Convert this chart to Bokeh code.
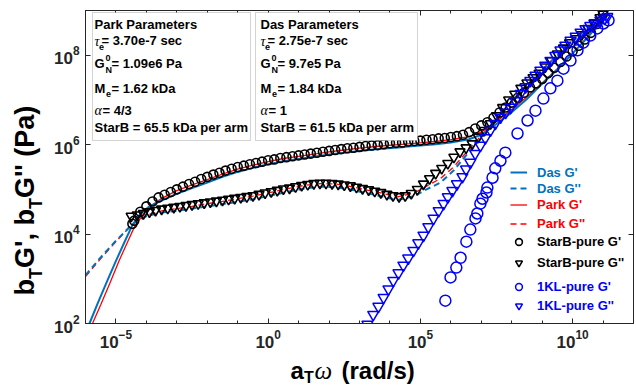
import numpy as np
from math import pi
from bokeh.plotting import figure
from bokeh.layouts import row, column
from bokeh.models import (Range1d, FixedTicker, LogAxis, Legend, LegendItem,
                          Label, BoxAnnotation, CustomJSTickFormatter)
from bokeh.embed import file_html
from bokeh.resources import INLINE

# ---------------- data (log10 of a_T*omega and of b_T*G) ----
das_gp_lw = [-5.87, -5.6, -5.3, -5.0, -4.7, -4.46, -4.2, -3.9, -3.54, -3.0, -2.5, -2.0, -1.5, -1.0,
             -0.5, 0.0, 0.5, 1.0, 1.5, 2.0, 2.5, 3.0, 3.7, 4.5, 5.0, 5.5, 6.0, 6.6, 7.0, 7.3, 7.96,
             8.5, 8.94, 9.5, 9.93, 10.5, 11.08]
das_gp_lg = [2.00, 2.45, 2.93, 3.40, 3.85, 4.20, 4.45, 4.62, 4.74, 4.90, 5.03, 5.15, 5.28, 5.39,
             5.48, 5.56, 5.63, 5.68, 5.73, 5.78, 5.82, 5.86, 5.91, 5.95, 5.98, 6.01, 6.05, 6.12, 6.22,
             6.36, 6.70, 7.02, 7.32, 7.68, 7.99, 8.40, 8.89]

das_gpp_lw = [-6.0, -5.5, -5.0, -4.46, -4.0, -3.5, -3.0, -2.5, -2.0, -1.5, -1.0, -0.5, 0.0, 0.6, 1.2,
              1.72, 2.2, 2.6, 3.2, 3.69, 4.25, 4.8, 5.2, 5.66, 6.09, 6.55, 7.0, 7.3, 7.8, 8.29, 8.94,
              9.6, 10.3, 11.01]
das_gpp_lg = [3.08, 3.48, 3.85, 4.22, 4.40, 4.48, 4.52, 4.57, 4.62, 4.67, 4.72, 4.78, 4.85, 4.94, 5.02,
              5.06, 5.05, 5.01, 4.92, 4.85, 4.76, 4.85, 5.00, 5.15, 5.42, 5.80, 6.15, 6.38, 6.80, 7.18,
              7.62, 8.06, 8.50, 8.89]

park_gp_lw = [-5.77, -5.5, -5.2, -4.9, -4.6, -4.4, -4.1, -3.8, -3.54, -3.0, -2.5, -2.0, -1.5, -1.0,
              -0.5, 0.0, 0.5, 1.0, 1.5, 2.0, 2.5, 3.0, 3.7, 4.5, 5.0, 5.5, 6.0, 6.6, 7.0, 7.3, 8.0,
              8.5, 9.0, 9.5, 10.0, 10.5, 11.05]
park_gp_lg = [2.00, 2.42, 2.90, 3.40, 3.85, 4.15, 4.45, 4.65, 4.78, 4.97, 5.10, 5.22, 5.34, 5.45,
              5.54, 5.62, 5.69, 5.74, 5.79, 5.84, 5.88, 5.92, 5.97, 6.01, 6.04, 6.07, 6.11, 6.18,
              6.28, 6.42, 6.78, 7.07, 7.38, 7.70, 8.04, 8.42, 8.90]

park_gpp_lw = [-6.0, -5.5, -5.0, -4.46, -4.0, -3.5, -3.0, -2.5, -2.0, -1.5, -1.0, -0.5, 0.0, 0.6, 1.2,
               1.72, 2.2, 2.6, 3.2, 3.69, 4.25, 4.8, 5.2, 5.66, 6.09, 6.55, 7.0, 7.3, 7.8, 8.3, 8.94,
               9.6, 10.3, 11.01]
park_gpp_lg = [3.05, 3.45, 3.83, 4.22, 4.42, 4.52, 4.57, 4.62, 4.68, 4.73, 4.79, 4.85, 4.92, 5.01, 5.09,
               5.13, 5.12, 5.08, 4.99, 4.92, 4.83, 4.92, 5.07, 5.24, 5.50, 5.86, 6.20, 6.42, 6.83, 7.20,
               7.64, 8.08, 8.52, 8.90]

starb_gp_lw = [-4.46, -4.4, -4.2, -4.0, -3.8, -3.6, -3.4, -3.2, -3.0, -2.8, -2.6, -2.4, -2.2, -2.0, -1.8,
               -1.6, -1.4, -1.2, -1.0, -0.8, -0.6, -0.4, -0.2, 0.0, 0.2, 0.4, 0.6, 0.8, 1.0, 1.2,
               1.4, 1.6, 1.8, 2.0, 2.2, 2.4, 2.6, 2.8, 3.0, 3.2, 3.4, 3.6, 3.8, 4.0, 4.2, 4.4, 4.6,
               4.8, 5.0, 5.2, 5.4, 5.6, 5.8, 6.0, 6.2, 6.4, 6.6, 6.8, 7.0, 7.2, 7.4, 7.6, 7.8, 8.0,
               8.2, 8.4, 8.6, 8.8, 9.0, 9.2, 9.4, 9.6, 9.8, 10.0, 10.2, 10.4, 10.6, 10.8, 11.0]
starb_gp_lg = [4.23, 4.30, 4.50, 4.62, 4.73, 4.82, 4.88, 4.94, 5.00, 5.06, 5.12, 5.17, 5.23, 5.28, 5.33,
               5.37, 5.42, 5.46, 5.50, 5.53, 5.56, 5.59, 5.62, 5.65, 5.67, 5.70, 5.72, 5.74, 5.76, 5.78,
               5.80, 5.82, 5.84, 5.86, 5.88, 5.90, 5.92, 5.93, 5.95, 5.97, 5.98, 5.99, 6.01, 6.03, 6.04,
               6.05, 6.07, 6.08, 6.09, 6.11, 6.12, 6.14, 6.15, 6.17, 6.19, 6.22, 6.28, 6.36, 6.43, 6.50,
               6.60, 6.72, 6.83, 6.94, 7.05, 7.16, 7.28, 7.37, 7.47, 7.60, 7.72, 7.85, 7.97, 8.09, 8.21,
               8.35, 8.50, 8.70, 8.92]

starb_gpp_lw = [-4.5, -4.3, -4.1, -3.9, -3.7, -3.5, -3.3, -3.1, -2.9, -2.7, -2.5, -2.3, -2.1, -1.9, -1.7,
                -1.5, -1.3, -1.1, -0.9, -0.7, -0.5, -0.3, -0.1, 0.1, 0.3, 0.5, 0.7, 0.9, 1.1, 1.3,
                1.5, 1.7, 1.9, 2.1, 2.3, 2.5, 2.7, 2.9, 3.1, 3.3, 3.5, 3.7, 3.9, 4.1, 4.3, 4.5, 4.7,
                4.9, 5.1, 5.3, 5.5, 5.7, 5.9, 6.1, 6.3, 6.5, 6.7, 6.9, 7.1, 7.3, 7.5, 7.7, 7.9, 8.1,
                8.3, 8.5, 8.7, 8.9, 9.1, 9.3, 9.5, 9.7, 9.9, 10.1, 10.3, 10.5, 10.7, 10.9, 11.0]
starb_gpp_lg = [4.40, 4.43, 4.46, 4.50, 4.53, 4.56, 4.58, 4.60, 4.62, 4.64, 4.66, 4.68, 4.70, 4.72, 4.74,
                4.76, 4.78, 4.80, 4.82, 4.84, 4.86, 4.89, 4.92, 4.95, 4.98, 5.01, 5.03, 5.06, 5.09, 5.11,
                5.13, 5.14, 5.14, 5.13, 5.12, 5.10, 5.08, 5.05, 5.02, 4.99, 4.96, 4.93, 4.89, 4.86, 4.84,
                4.86, 4.91, 5.00, 5.12, 5.24, 5.36, 5.47, 5.58, 5.72, 5.84, 5.93, 6.02, 6.17, 6.32, 6.47,
                6.65, 6.83, 7.00, 7.13, 7.26, 7.38, 7.50, 7.60, 7.74, 7.88, 8.03, 8.16, 8.28, 8.37, 8.46,
                8.60, 8.72, 8.84, 8.92]

kl_gp_lw = [5.82, 5.99, 6.18, 6.32, 6.51, 6.64, 6.81, 6.87, 6.97, 7.04, 7.17, 7.20, 7.37, 7.46, 7.63,
            7.79, 8.19, 8.52, 8.78, 9.04, 9.27, 9.50, 9.70, 9.93, 10.16, 10.35, 10.58, 10.81, 11.01, 11.18]
kl_gp_lg = [2.51, 3.03, 3.25, 3.47, 3.83, 4.10, 4.35, 4.46, 4.68, 4.79, 4.93, 5.04, 5.26, 5.47, 5.64,
            5.82, 6.25, 6.54, 6.76, 7.03, 7.26, 7.43, 7.70, 7.88, 8.11, 8.28, 8.44, 8.60, 8.71, 8.78]

kl_gpp_lw = [3.26, 3.45, 3.62, 3.79, 3.95, 4.11, 4.28, 4.44, 4.60, 4.77, 4.93, 5.10, 5.26, 5.43, 5.60,
             5.76, 5.90, 6.05, 6.20, 6.38, 6.50, 6.64, 6.80, 6.97, 7.13, 7.30, 7.46, 7.63, 7.80, 7.96,
             8.12, 8.29, 8.45, 8.61, 8.78, 8.94, 9.10, 9.27, 9.43, 9.60, 9.76, 9.93, 10.10, 10.26,
             10.42, 10.58, 10.75, 10.91, 11.05, 11.14]
kl_gpp_lg = [1.98, 2.20, 2.38, 2.58, 2.77, 2.96, 3.13, 3.30, 3.46, 3.63, 3.80, 3.97, 4.16, 4.35, 4.52,
             4.68, 4.83, 4.97, 5.12, 5.28, 5.45, 5.60, 5.80, 5.98, 6.15, 6.32, 6.47, 6.61, 6.72, 6.83,
             6.98, 7.14, 7.29, 7.43, 7.55, 7.66, 7.77, 7.88, 7.99, 8.11, 8.22, 8.33, 8.42, 8.51,
             8.59, 8.66, 8.72, 8.78, 8.82, 8.86]

x_major = [1e-5, 1e0, 1e5, 1e10]
x_minor = [10.0 ** k for k in range(-6, 13)]
y_major = [1e2, 1e4, 1e6, 1e8]

park_params = ["Park Parameters", "= 3.70e-7 sec", "= 1.09e6 Pa", "= 1.62 kDa", "= 4/3",
               "StarB = 65.5 kDa per arm"]
das_params = ["Das Parameters", "= 2.75e-7 sec", "= 9.7e5 Pa", "= 1.84 kDa", "= 1",
              "StarB = 61.5 kDa per arm"]

# ---------------- style ----------------
DAS = "#0072BD"
RED = "#FF0000"
BLUE = "#0000FF"
AX = "#262626"
FONT = "Liberation Sans"
GREEK = "Liberation Serif"

# page layout: [ylabel strip 45px] [ main figure 591 x 355 over xlabel strip 591 x 32 ]
# frame of the main plot: page x 85..633, y 10..323
p = figure(width=591, height=355, x_axis_type="log", y_axis_type="log",
           x_range=Range1d(1e-6, 1e12), y_range=Range1d(1e2, 1e9),
           output_backend="svg", toolbar_location=None,
           min_border_left=40, min_border_right=3, min_border_top=10, min_border_bottom=32)
p.grid.visible = False
p.outline_line_color = AX
p.outline_line_width = 1
p.background_fill_color = "white"
p.border_fill_color = "white"


def strip(w, h, l, r, t, b):
    f = figure(width=w, height=h, output_backend="svg", toolbar_location=None,
               x_axis_location=None, y_axis_location=None,
               min_border_left=l, min_border_right=r, min_border_top=t, min_border_bottom=b)
    f.grid.visible = False
    f.outline_line_color = None
    f.background_fill_color = "white"
    f.border_fill_color = "white"
    return f


# borders chosen so that the strip frames line up with the main frame
fy_lab = strip(45, 387, 0, 0, 10, 64)     # frame: page x 0..45, y 10..323
fx_lab = strip(591, 32, 40, 3, 0, 0)      # frame: page x 85..633, y 355..387


def L(a):
    return [10.0 ** v for v in a]


r_pgp = p.line(L(park_gp_lw), L(park_gp_lg), line_color=RED, line_width=1.3)
r_pgpp = p.line(L(park_gpp_lw), L(park_gpp_lg), line_color=RED, line_width=1.3, line_dash="6 4")
r_dgp = p.line(L(das_gp_lw), L(das_gp_lg), line_color=DAS, line_width=2)
r_dgpp = p.line(L(das_gpp_lw), L(das_gpp_lg), line_color=DAS, line_width=2, line_dash="6 4")
r_sgp = p.scatter(L(starb_gp_lw), L(starb_gp_lg), marker="circle", size=9, fill_color=None,
                  line_color="black", line_width=1.6)
r_sgpp = p.scatter(L(starb_gpp_lw), L(starb_gpp_lg), marker="inverted_triangle", size=10,
                   fill_color=None, line_color="black", line_width=1.6)
r_kgp = p.scatter(L(kl_gp_lw), L(kl_gp_lg), marker="circle", size=11, fill_color=None,
                  line_color=BLUE, line_width=1.5)
r_kgpp = p.scatter(L(kl_gpp_lw), L(kl_gpp_lg), marker="inverted_triangle", size=11,
                   fill_color=None, line_color=BLUE, line_width=1.5)

# ---------------- axes ----------------
def style_axis(ax, labels=True):
    ax.axis_line_color = AX
    ax.major_tick_line_color = AX
    ax.minor_tick_line_color = AX
    ax.major_tick_in = 5
    ax.major_tick_out = 0
    ax.minor_tick_in = 3
    ax.minor_tick_out = 0
    if labels:
        ax.major_label_text_font = FONT
        ax.major_label_text_font_style = "bold"
        ax.major_label_text_font_size = "17px"
        ax.major_label_text_color = AX
        ax.major_label_standoff = 6
    else:
        ax.formatter = CustomJSTickFormatter(code="return ''")
        ax.major_label_text_font_size = "1px"
        ax.major_label_standoff = 0


p.xaxis.ticker = FixedTicker(ticks=x_major, minor_ticks=x_minor)
p.yaxis.ticker = FixedTicker(ticks=y_major, minor_ticks=[])
style_axis(p.xaxis[0])
style_axis(p.yaxis[0])

top = LogAxis(ticker=FixedTicker(ticks=x_major, minor_ticks=x_minor))
style_axis(top, labels=False)
p.add_layout(top, "above")
right = LogAxis(ticker=FixedTicker(ticks=y_major, minor_ticks=[]))
style_axis(right, labels=False)
p.add_layout(right, "right")


# ---------------- text helper (page px -> frame px of a given figure) ----------------
def txt(fig, ox, oy, px, py, text, size=13, style="bold", font=FONT, angle=0.0, color="black"):
    fig.add_layout(Label(x=px - ox, y=oy - py, x_units="screen", y_units="screen", text=text,
                         text_font=font, text_font_size=f"{size}px", text_font_style=style,
                         text_color=color, angle=angle, text_align="left",
                         text_baseline="middle"))


def ptxt(px, py, text, **kw):
    txt(p, 85, 323, px, py, text, **kw)


# parameter boxes
for (l, r_) in [(92, 250), (255, 417)]:
    p.add_layout(BoxAnnotation(left=l - 85, right=r_ - 85, top=323 - 12, bottom=323 - 140,
                               left_units="screen", right_units="screen",
                               top_units="screen", bottom_units="screen",
                               fill_color="white", fill_alpha=1.0,
                               line_color="#6e6e6e", line_width=1))

for dx, prm in [(0, park_params), (166, das_params)]:
    x0 = 94 + dx
    ptxt(x0, 24, prm[0])
    ptxt(x0, 41, "τ", size=14, style="italic", font=GREEK)
    ptxt(x0 + 4.5, 46, "e", size=9)
    ptxt(x0 + 7, 40, prm[1])
    ptxt(x0, 63, "G")
    ptxt(x0 + 11, 57, "0", size=9)
    ptxt(x0 + 11, 69, "N", size=9)
    ptxt(x0 + 17, 63, prm[2])
    ptxt(x0, 88, "M")
    ptxt(x0 + 11.5, 93, "e", size=9)
    ptxt(x0 + 17, 88, prm[3])
    ptxt(x0, 110, "α", size=14, style="italic", font=GREEK)
    ptxt(x0 + 8, 110, prm[4])
    ptxt(x0, 127, prm[5])

# x axis label: a_T omega (rad/s)   (strip frame at page x 85.., y 355..387)
S = 24
txt(fx_lab, 85, 387, 290, 370, "a", size=S)
txt(fx_lab, 85, 387, 303.5, 377, "T", size=16)
txt(fx_lab, 85, 387, 314, 370, "ω", size=S + 1, style="italic", font=GREEK)
txt(fx_lab, 85, 387, 341, 370, "(rad/s)", size=S)

# y axis label: b_T G', b_T G'' (Pa)  (rotated; strip frame at page x 0..45, y 10..323)
SY = 27
yx = 24
sx = yx + 11
txt(fy_lab, 0, 323, yx, 295, "b", size=SY, angle=pi / 2)
txt(fy_lab, 0, 323, sx, 278.5, "T", size=18, angle=pi / 2)
txt(fy_lab, 0, 323, yx, 267.5, "G', b", size=SY, angle=pi / 2)
txt(fy_lab, 0, 323, sx, 208.6, "T", size=18, angle=pi / 2)
txt(fy_lab, 0, 323, yx, 197.6, "G'' (Pa)", size=SY, angle=pi / 2)

# ---------------- legends (one per colour group) ----------------
def add_legend(items, color, vx, vy, rowh):
    lg = Legend(items=[LegendItem(label=t, renderers=[r]) for t, r in items],
                location=(vx, vy), orientation="vertical",
                glyph_width=17, glyph_height=rowh, label_height=rowh, label_standoff=10,
                padding=0, margin=0, spacing=0,
                border_line_color=None, background_fill_alpha=0,
                label_text_font=FONT, label_text_font_style="bold",
                label_text_font_size="13px", label_text_color=color)
    p.add_layout(lg)


add_legend([("Das G'", r_dgp), ("Das G''", r_dgpp)], DAS, 425, 127, 16)
add_legend([("Park G'", r_pgp), ("Park G''", r_pgpp)], RED, 425, 90, 19)
add_legend([("StarB-pure G'", r_sgp), ("StarB-pure G''", r_sgpp)], "black", 425, 50, 21)
add_legend([("1KL-pure G'", r_kgp), ("1KL-pure G''", r_kgpp)], BLUE, 425, 8, 19)

layout = row(fy_lab, column(p, fx_lab, spacing=0), spacing=0)
open("out.html", "w").write(file_html(layout, INLINE))
